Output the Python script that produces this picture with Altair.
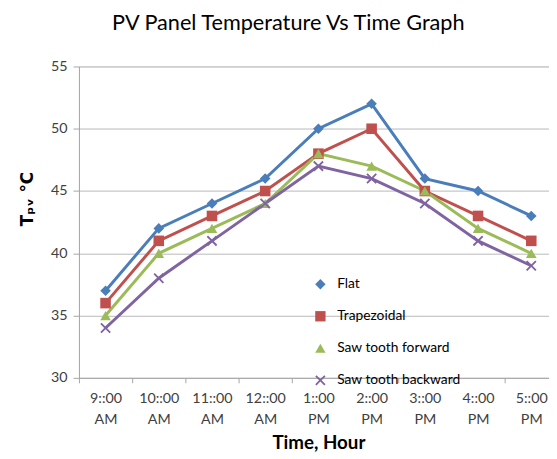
import altair as alt
import pandas as pd

times = ["9::00\nAM", "10::00\nAM", "11::00\nAM", "12::00\nAM", "1::00\nPM",
         "2::00\nPM", "3::00\nPM", "4::00\nPM", "5::00\nPM"]
series_names = ["Flat", "Trapezoidal", "Saw tooth forward", "Saw tooth backward"]
flat = [37, 42, 44, 46, 50, 52, 46, 45, 43]
trapezoidal = [36, 41, 43, 45, 48, 50, 45, 43, 41]
saw_forward = [35, 40, 42, 44, 48, 47, 45, 42, 40]
saw_backward = [34, 38, 41, 44, 47, 46, 44, 41, 39]
colors = ["#4A7EBB", "#C0504D", "#9BBB59", "#8064A2"]
x_shape = "M-1,-0.75L-0.75,-1L0,-0.25L0.75,-1L1,-0.75L0.25,0L1,0.75L0.75,1L0,0.25L-0.75,1L-1,0.75L-0.25,0Z"
shapes = ["diamond", "square", "triangle-up", x_shape]

rows = []
for name, vals in zip(series_names, [flat, trapezoidal, saw_forward, saw_backward]):
    for t, v in zip(times, vals):
        rows.append({"time": t, "series": name, "temp": v})
df = pd.DataFrame(rows)

FONT = "Lato"
W, H = 477, 316

x_enc = alt.X("time:N", sort=times, title="Time, Hour",
              scale=alt.Scale(type="band", paddingInner=0, paddingOuter=0, range=[0, 486]),
              bandPosition=0.5,
              axis=alt.Axis(labelAngle=0, labelExpr="split(datum.label, '\\n')",
                            tickBand="extent", grid=False, labelLineHeight=21,
                            labelFontSize=14.5, labelColor="#404040", labelFont=FONT,
                            labelPadding=9, tickSize=5, tickColor="#A6A6A6",
                            domainColor="#A6A6A6", titleFont=FONT, titleFontSize=19,
                            titleFontWeight="bold", titleColor="#000000", titlePadding=8))
y_enc = alt.Y("temp:Q", title="Tₚᵥ °C",
              scale=alt.Scale(domain=[30, 55], nice=False, zero=False),
              axis=alt.Axis(values=[30, 35, 40, 45, 50, 55], grid=True, gridColor="#B8B8B8",
                            labelFontSize=14.5, labelColor="#404040", labelFont=FONT,
                            tickSize=6, tickColor="#A6A6A6", domainColor="#A6A6A6",
                            labelPadding=6, titleFont="DejaVu Sans", titleFontSize=17,
                            titleFontWeight="bold", titleColor="#000000",
                            titleAngle=270, titleX=-52, titleY=134, titleAlign="center",
                            titleBaseline="middle"))

legend = alt.Legend(title=None, orient="none", legendX=238, legendY=214,
                    rowPadding=18.5, labelFont=FONT, labelFontSize=14, labelColor="#000000",
                    symbolSize=110, symbolStrokeWidth=0, labelOffset=10)

color_enc = alt.Color("series:N", sort=series_names,
                      scale=alt.Scale(domain=series_names, range=colors), legend=legend)
shape_enc = alt.Shape("series:N", sort=series_names,
                      scale=alt.Scale(domain=series_names, range=shapes), legend=legend)

base = alt.Chart(df)
lines = base.mark_line(strokeWidth=3).encode(
    x=x_enc, y=y_enc, color=color_enc, detail="series:N")
points = base.mark_point(filled=True, size=115, opacity=1).encode(
    x=x_enc, y=y_enc, color=color_enc, shape=shape_enc)

chart = alt.layer(lines, points).properties(
    width=W, height=H,
    autosize=alt.AutoSizeParams(type="none"),
    padding={"left": 72, "top": 56, "right": 0, "bottom": 78},
    title=alt.TitleParams("PV Panel Temperature Vs Time Graph", font=FONT, fontSize=22,
                          fontWeight="normal", color="#000000", anchor="middle",
                          dx=-26, offset=24),
).configure_view(stroke=None).configure(background="white")

chart.save("out.html", embed_options={"renderer": "svg", "actions": False})
